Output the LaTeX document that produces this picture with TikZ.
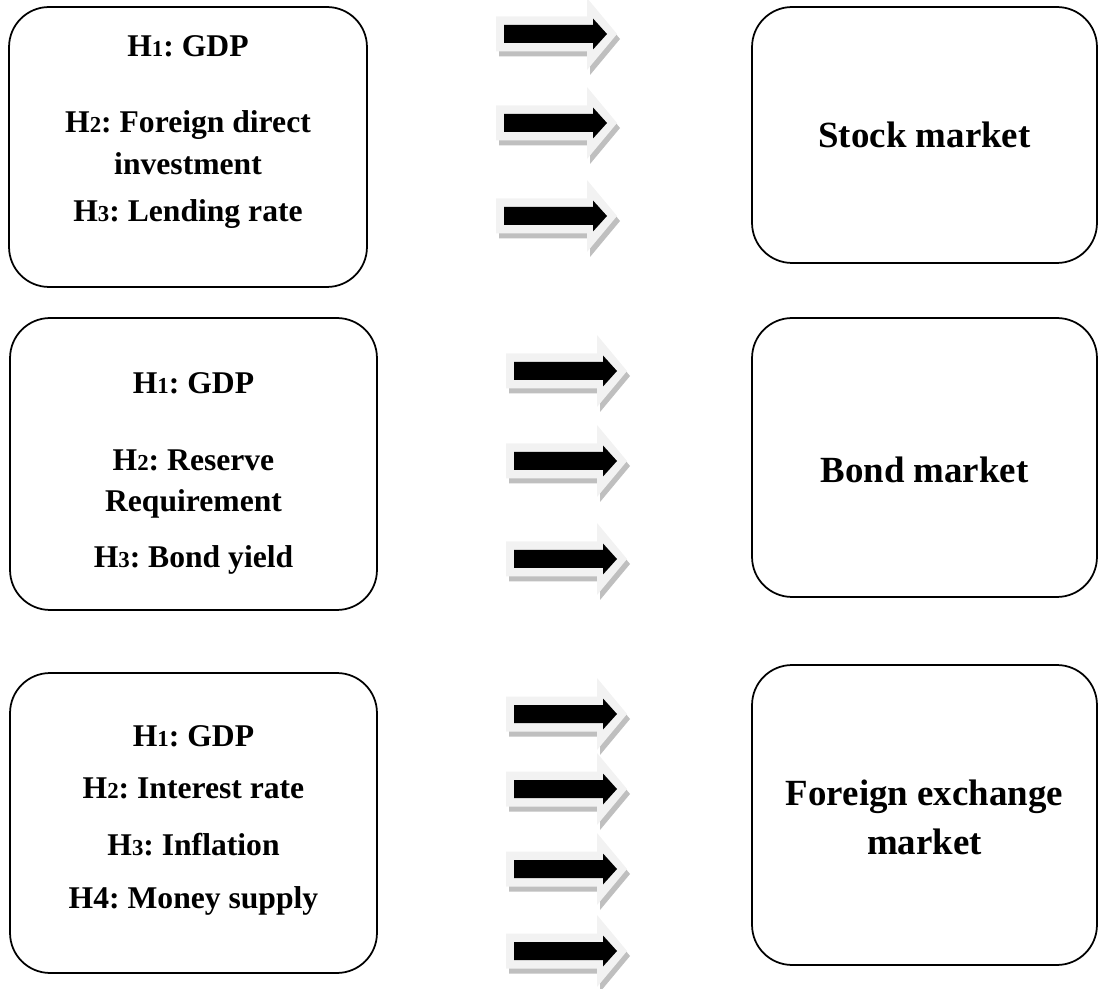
\documentclass[tikz,border=0pt]{standalone}
\usepackage{fontspec}
\setmainfont{Liberation Serif}
\frenchspacing

\definecolor{flechefond}{HTML}{F2F2F2}
\definecolor{flecheombre}{HTML}{BFBFBF}

% petits chiffres des hypotheses
\newcommand{\hd}[1]{{\fontsize{13}{13}\selectfont #1}}

\tikzset{
  cadre/.style={draw, line width=1pt, rounded corners=0.8cm, inner sep=0pt},
  hypo/.style={font=\fontsize{18}{24}\selectfont\bfseries, anchor=base, inner sep=0pt},
  marche/.style={font=\fontsize{21}{28}\selectfont\bfseries, align=center, inner sep=0pt},
  fleche/.pic={
    \fill[flecheombre, shift={(3,5)}] (0,-17.5) -- (91,-17.5) -- (91,-36) -- (121,0) -- (91,36) -- (91,17.5) -- (0,17.5) -- cycle;
    \fill[flechefond] (0,-17.5) -- (91,-17.5) -- (91,-36) -- (121,0) -- (91,36) -- (91,17.5) -- (0,17.5) -- cycle;
    \fill[black] (8,-9) -- (97,-9) -- (97,-15.5) -- (111,0) -- (97,15.5) -- (97,9) -- (8,9) -- cycle;
  }
}

\begin{document}
\begin{tikzpicture}[x=0.02cm, y=-0.02cm]
  \useasboundingbox (0,0) rectangle (1099,989);

  % cadres de gauche
  \node[cadre, minimum width=7.16cm, minimum height=5.6cm] (gauche1) at (188,147) {};
  \node[cadre, minimum width=7.34cm, minimum height=5.84cm] (gauche2) at (193.5,464) {};
  \node[cadre, minimum width=7.34cm, minimum height=6cm] (gauche3) at (193.5,823) {};

  % hypotheses
  \node[hypo] (g1h1) at (188,57) {H\hd{1}: GDP};
  \node[hypo] (g1h2) at (188,133) {H\hd{2}: Foreign direct};
  \node[hypo] (g1h2b) at (188,175) {investment};
  \node[hypo] (g1h3) at (188,222) {H\hd{3}: Lending rate};

  \node[hypo] (g2h1) at (193.5,394) {H\hd{1}: GDP};
  \node[hypo] (g2h2) at (193.5,471) {H\hd{2}: Reserve};
  \node[hypo] (g2h2b) at (193.5,512) {Requirement};
  \node[hypo] (g2h3) at (193.5,568) {H\hd{3}: Bond yield};

  \node[hypo] (g3h1) at (193.5,746) {H\hd{1}: GDP};
  \node[hypo] (g3h2) at (193.5,798) {H\hd{2}: Interest rate};
  \node[hypo] (g3h3) at (193.5,855) {H\hd{3}: Inflation};
  \node[hypo] (g3h4) at (193.5,908) {H4: Money supply};

  % marches
  \node[cadre, minimum width=6.9cm, minimum height=5.12cm] (actions) at (924.5,135) {};
  \node[cadre, minimum width=6.9cm, minimum height=5.58cm] (obligations) at (924.5,457.5) {};
  \node[cadre, minimum width=6.9cm, minimum height=6cm] (change) at (924.5,815) {};
  \node[marche] (lactions) at (924.5,135) {Stock market};
  \node[marche] (lobligations) at (924.5,470) {Bond market};
  \node[marche] (lchange) at (924.5,817) {Foreign exchange\\market};

  % fleches
  \foreach \y in {34,123,216}
    \pic at (496,\y) {fleche};
  \foreach \y in {371,461,559,714,789,869,951}
    \pic at (506,\y) {fleche};

\end{tikzpicture}
\end{document}
